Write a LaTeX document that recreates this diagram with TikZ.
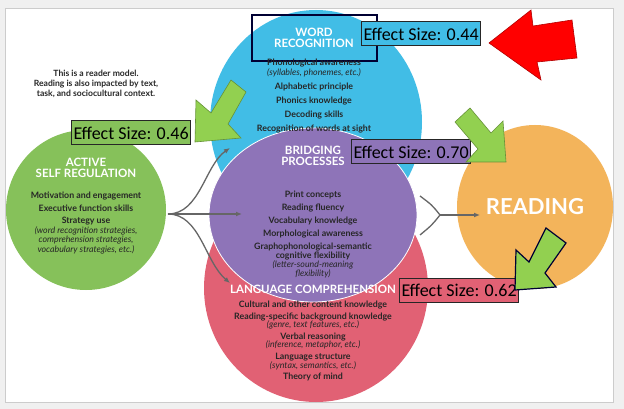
\documentclass[tikz,border=0pt]{standalone}
\usepackage{fontspec}
\usetikzlibrary{arrows.meta}
\setmainfont{Lato}
\newfontfamily\carl{Carlito}
\begin{document}
\begin{tikzpicture}[x=1pt,y=-1pt,
 hd/.style={font=\bfseries\fontsize{11.5}{11.5}\selectfont,text=white,align=center},
 bd/.style={font=\bfseries\fontsize{8.8}{9.6}\selectfont,text=black!85,align=center},
 eff/.style={draw=black!85,line width=1pt,font=\carl\fontsize{18}{18}\selectfont,inner sep=2pt,minimum height=24pt},
 grn/.style={fill=arrgreen,draw=arrgreen!70!black,line width=0.6pt},
 con/.style={draw=black!60,line width=1.3pt,-{Latex[length=6pt,width=5pt]}}]
\definecolor{cblue}{HTML}{41BDE6}
\definecolor{cred}{HTML}{E16174}
\definecolor{cpurp}{HTML}{8E74B8}
\definecolor{cgreen}{HTML}{86C15A}
\definecolor{corange}{HTML}{F3B45B}
\definecolor{arrgreen}{HTML}{92D050}
\useasboundingbox (0,0) rectangle (624,409);
\fill[black!6] (0,0) rectangle (624,409);
\fill[white,draw=black!20] (5,8) rectangle (613,402);
% circles
\fill[cblue] (316,122) ellipse [x radius=106,y radius=112];
\fill[cred] (316,288) ellipse [x radius=112,y radius=114];
\fill[cpurp,draw=white,line width=0.8pt] (313,215) ellipse [x radius=104,y radius=87];
\fill[cgreen] (86,210) ellipse [x radius=80,y radius=80];
\fill[corange] (535,207) ellipse [x radius=78,y radius=82];
% texts
\node[font=\bfseries\fontsize{8.6}{10}\selectfont,align=center,text=black!85] (note) at (96,84) {This is a reader model.\\Reading is also impacted by text,\\task, and sociocultural context.};
\node[hd] (wr) at (314,38) {WORD\\RECOGNITION};
\draw[draw=black!80!blue,line width=2.2pt] (252,15) rectangle (377,61);
\node[bd,font=\bfseries\fontsize{8.8}{8}\selectfont] (wrt) at (314,96) {Phonological awareness\\{\mdseries\itshape(syllables, phonemes, etc.)}\\[5pt]Alphabetic principle\\[5pt]Phonics knowledge\\[5pt]Decoding skills\\[5pt]Recognition of words at sight};
\node[hd] (asr) at (86,168) {ACTIVE\\SELF REGULATION};
\node[bd] (asrt) at (86,223) {Motivation and engagement\\[3pt]Executive function skills\\[3pt]Strategy use\\{\mdseries\itshape(word recognition strategies,}\\{\mdseries\itshape comprehension strategies,}\\{\mdseries\itshape vocabulary strategies, etc.)}};
\node[hd] (bp) at (313,156) {BRIDGING\\PROCESSES};
\node[bd,font=\bfseries\fontsize{8.8}{9}\selectfont] (bpt) at (313,234) {Print concepts\\[4pt]Reading fluency\\[4pt]Vocabulary knowledge\\[4pt]Morphological awareness\\[4pt]Graphophonological-semantic\\cognitive flexibility\\{\mdseries\itshape (letter-sound-meaning}\\{\mdseries\itshape flexibility)}};
\node[hd] (lc) at (313,289) {LANGUAGE COMPREHENSION};
\node[bd,font=\bfseries\fontsize{8.8}{8.6}\selectfont] (lct) at (313,341) {Cultural and other content knowledge\\[3pt]Reading-specific background knowledge\\{\mdseries\itshape(genre, text features, etc.)}\\[3pt]Verbal reasoning\\{\mdseries\itshape(inference, metaphor, etc.)}\\[3pt]Language structure\\{\mdseries\itshape(syntax, semantics, etc.)}\\[3pt]Theory of mind};
\node[font=\bfseries\fontsize{22}{22}\selectfont,text=white] (rd) at (535,207) {READING};
% connectors
\coordinate (fork) at (168,214);
\coordinate (t1) at (230,148); \coordinate (t2) at (242,214); \coordinate (t3) at (230,283);
\draw[con] (fork) .. controls (200,214) and (205,165) .. (t1);
\draw[con] (fork) -- (t2);
\draw[con] (fork) .. controls (200,214) and (205,262) .. (t3);
\coordinate (c1) at (420,196); \coordinate (c2) at (440,215); \coordinate (c3) at (420,235);
\draw[draw=black!60,line width=1.3pt] (c1) .. controls (432,205) .. (c2) .. controls (432,225) .. (c3);
\draw[con] (c2) -- (480,215);
% effect boxes
\node[eff,fill=cblue,anchor=west] (e44) at (361,34) {Effect Size: 0.44};
\node[eff,fill=cgreen,anchor=west] (e46) at (71,133) {Effect Size: 0.46};
\node[eff,fill=cpurp,anchor=west] (e70) at (351,152) {Effect Size: 0.70};
\node[eff,fill=cred,anchor=west] (e62) at (399,290) {Effect Size: 0.62};
% block arrows
\fill[red,draw=red!70!black,line width=0.6pt] (489,43) -- (531,10) -- (533,26) -- (572,20) -- (577,58) -- (537,62) -- (541,80) -- cycle;
\draw[grn] (195,142) -- (196,100) -- (211,113) -- (231,80) -- (246,92) -- (228,124) -- (241,138) -- cycle;
\draw[grn] (506,162) -- (466,162) -- (478,149) -- (455,122) -- (470,108) -- (491,133) -- (503,121) -- cycle;
\draw[fill=arrgreen,draw=black!80!blue,line width=1.2pt] (515,290) -- (516,250) -- (529,262) -- (546,228) -- (566,243) -- (545,273) -- (556,287) -- cycle;
\end{tikzpicture}
\end{document}
